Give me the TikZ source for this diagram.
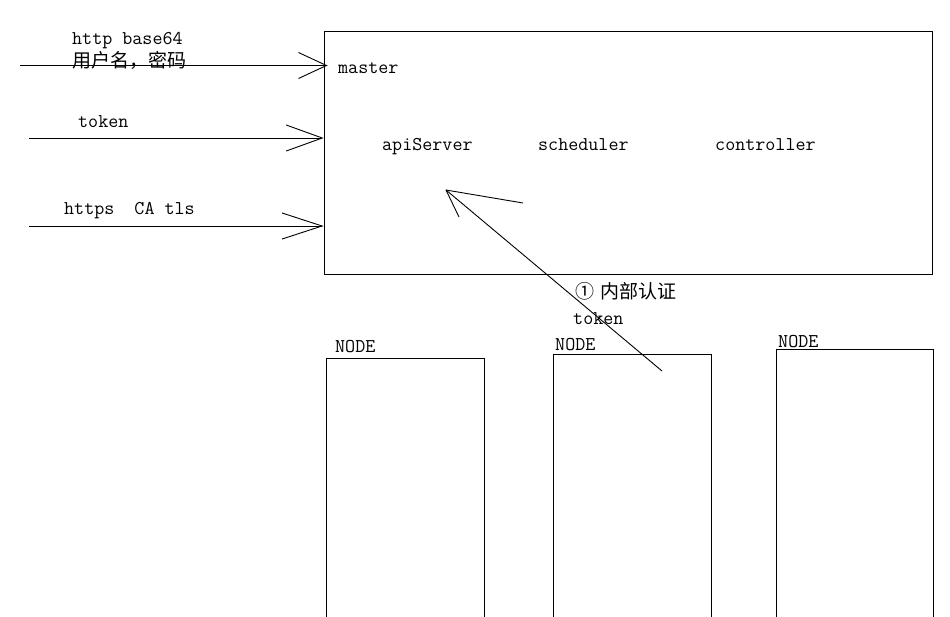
\documentclass[tikz,border=0pt]{standalone}
\usepackage{fontspec}
\newfontfamily\cjk{Noto Sans CJK SC}
\usetikzlibrary{arrows.meta}
\tikzset{
  % plain black frame for the master and the worker nodes
  box/.style={draw, line width=0.9pt, inner sep=0pt},
  % labels: monospaced latin and chinese
  mono/.style={font=\fontsize{19.5}{20}\selectfont\ttfamily, anchor=base west, inner sep=0pt},
  zh/.style={font=\fontsize{19}{20}\selectfont\cjk, anchor=base west, inner sep=0pt},
  % arrows
  wire/.style={draw, line width=0.9pt},
  flow/.style={wire, -{Straight Barb[length=#1, width=26pt]}},
  flow/.default=32pt,
}
\begin{document}
\begin{tikzpicture}[x=1pt, y=-1pt]
\useasboundingbox (0,0) rectangle (950,616);

% ------------------------------- master ------------------------------------
\node[box, minimum width=608pt, minimum height=243pt] (master) at (628,152.5) {};
\node[mono] (mastername) at (338,73) {master};
\node[mono] (api)   at (382,150) {apiServer};
\node[mono] (sched) at (538,150) {scheduler};
\node[mono] (ctrl)  at (715,150) {controller};

% ------------------------------- worker nodes ------------------------------
\node[box, minimum width=158pt, minimum height=282pt] (node1) at (405,499) {};
\node[box, minimum width=158pt, minimum height=286pt] (node2) at (632,497) {};
\node[box, minimum width=157pt, minimum height=291pt] (node3) at (854.5,494.5) {};
\node[mono] (node1name) at (335,352) {NODE};
\node[mono] (node2name) at (555,350) {NODE};
\node[mono] (node3name) at (778,347) {NODE};

% ------------------------------- client access -----------------------------
\coordinate (src1) at (20,65.5);
\coordinate (src2) at (29,138);
\coordinate (src3) at (29,226);
\draw[flow=28pt] (src1) -- ([xshift=4pt]src1 -| master.west);
\draw[flow=36pt] (src2) -- (src2 -| master.west);
\draw[flow=40pt] (src3) -- (src3 -| master.west);
\node[mono] (basic)  at (72,44)  {http base64};
\node[zh]   (user)   at (72,67.5) {用户名，密码};
\node[mono] (tok)    at (78,127) {token};
\node[mono] (https)  at (64,214) {https\ \ CA tls};

% ------------------------------- internal auth -----------------------------
\coordinate (authtail) at (662,371);
\coordinate (authtip)  at (446,190);
\draw[wire] (authtail) -- (authtip);
\draw[wire] (authtip) -- ++(77,13);
\draw[wire] (authtip) -- ++(13,27);
\node[zh]   (auth)    at (575,298) {①\hspace{6pt}内部认证};
\node[mono] (authtok) at (573,324) {token};

\end{tikzpicture}
\end{document}
